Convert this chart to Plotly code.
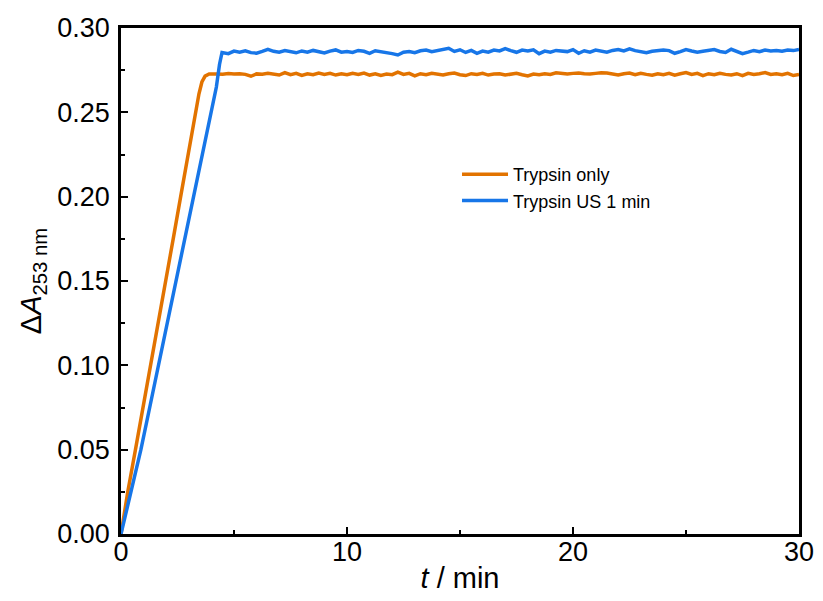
import plotly.graph_objects as go

# ---- data ----
orange_rise_t = [0, 0.3, 0.64, 0.98, 1.32, 1.65, 1.98, 2.31, 2.64, 2.97, 3.3, 3.45, 3.58, 3.72, 3.9, 4.05]
orange_rise_y = [0, 0.025, 0.05, 0.075, 0.10, 0.125, 0.15, 0.175, 0.20, 0.225, 0.25, 0.261, 0.268, 0.2715, 0.2727, 0.2729]

orange_plateau_t = [4.25 + 0.25 * i for i in range(104)]
orange_plateau_y = [
    0.2728, 0.2726, 0.2730, 0.2727, 0.2729, 0.2725, 0.2714, 0.2728, 0.2726, 0.2731,
    0.2728, 0.2721, 0.2736, 0.2723, 0.2731, 0.2719, 0.2728, 0.2723, 0.2733, 0.2725,
    0.2731, 0.2721, 0.2729, 0.2723, 0.2731, 0.2725, 0.2733, 0.2721, 0.2729, 0.2719,
    0.2727, 0.2723, 0.2738, 0.2725, 0.2731, 0.2716, 0.2729, 0.2723, 0.2731, 0.2725,
    0.2721, 0.2729, 0.2733, 0.2723, 0.2718, 0.2729, 0.2725, 0.2731, 0.2721, 0.2727,
    0.2729, 0.2721, 0.2727, 0.2731, 0.2723, 0.2716, 0.2727, 0.2723, 0.2729, 0.2725,
    0.2735, 0.2730, 0.2727, 0.2731, 0.2733, 0.2729, 0.2727, 0.2731, 0.2735, 0.2733,
    0.2725, 0.2721, 0.2729, 0.2733, 0.2723, 0.2731, 0.2725, 0.2720, 0.2729, 0.2723,
    0.2731, 0.2720, 0.2729, 0.2736, 0.2725, 0.2731, 0.2718, 0.2729, 0.2723, 0.2731,
    0.2725, 0.2721, 0.2729, 0.2718, 0.2731, 0.2725, 0.2729, 0.2736, 0.2725, 0.2729,
    0.2723, 0.2731, 0.2718, 0.2724,
]

blue_rise_t = [0, 0.45, 0.88, 1.27, 1.66, 2.05, 2.44, 2.83, 3.22, 3.61, 4.0, 4.22, 4.36, 4.47]
blue_rise_y = [0, 0.025, 0.05, 0.075, 0.10, 0.125, 0.15, 0.175, 0.20, 0.225, 0.25, 0.265, 0.2785, 0.2855]

blue_plateau_t = [4.75 + 0.25 * i for i in range(102)]
blue_plateau_y = [
    0.2848, 0.2863, 0.2857, 0.2865, 0.2854, 0.2851, 0.2861, 0.2874, 0.2862, 0.2857,
    0.2866, 0.2860, 0.2853, 0.2864, 0.2857, 0.2867, 0.2860, 0.2852, 0.2863, 0.2870,
    0.2857, 0.2861, 0.2855, 0.2867, 0.2862, 0.2850, 0.2865, 0.2860, 0.2857, 0.2848,
    0.2840, 0.2856, 0.2861, 0.2854, 0.2865, 0.2869, 0.2859, 0.2867, 0.2873, 0.2880,
    0.2861, 0.2871, 0.2855, 0.2867, 0.2850, 0.2863, 0.2857, 0.2869, 0.2864, 0.2878,
    0.2866, 0.2856, 0.2869, 0.2864, 0.2871, 0.2848, 0.2863, 0.2857, 0.2867, 0.2862,
    0.2860, 0.2872, 0.2850, 0.2865, 0.2857, 0.2869, 0.2862, 0.2857, 0.2867, 0.2872,
    0.2864, 0.2876, 0.2866, 0.2859, 0.2854, 0.2862, 0.2867, 0.2869, 0.2866, 0.2850,
    0.2860, 0.2872, 0.2864, 0.2857, 0.2862, 0.2867, 0.2872, 0.2861, 0.2855, 0.2874,
    0.2862, 0.2848, 0.2857, 0.2867, 0.2860, 0.2869, 0.2864, 0.2867, 0.2862, 0.2869,
    0.2866, 0.2873,
]

series_names = ["Trypsin only", "Trypsin US 1 min"]
x_ticks = [0, 10, 20, 30]
y_ticks = [0.00, 0.05, 0.10, 0.15, 0.20, 0.25, 0.30]

ORANGE = "#E27300"
BLUE = "#1776E8"

fig = go.Figure()
fig.add_trace(go.Scatter(
    x=orange_rise_t + orange_plateau_t, y=orange_rise_y + orange_plateau_y,
    mode="lines", name=series_names[0], line=dict(color=ORANGE, width=3.5),
))
fig.add_trace(go.Scatter(
    x=blue_rise_t + blue_plateau_t, y=blue_rise_y + blue_plateau_y,
    mode="lines", name=series_names[1], line=dict(color=BLUE, width=3.5),
))

font_family = "Liberation Sans, Arial, sans-serif"
axis_common = dict(
    showgrid=False, zeroline=False, showline=True, linecolor="black", linewidth=2.5,
    mirror=True, ticks="inside", ticklen=7, tickwidth=2, tickcolor="black",
    tickfont=dict(family=font_family, size=27, color="black"),
    automargin=False,
)

fig.update_xaxes(
    range=[0, 30], tickvals=x_ticks, ticktext=[str(v) for v in x_ticks],
    minor=dict(ticks="inside", ticklen=4, tickwidth=2, tickcolor="black", dtick=5, tick0=0),
    title=dict(text="<i>t</i> / min", font=dict(family=font_family, size=29, color="black"), standoff=2),
    ticklabelstandoff=-8,
    **axis_common,
)
fig.update_yaxes(
    range=[0, 0.30], tickvals=y_ticks, ticktext=[f"{v:.2f}" for v in y_ticks],
    minor=dict(ticks="inside", ticklen=4, tickwidth=2, tickcolor="black", dtick=0.025, tick0=0),
    title=dict(text="Δ<i>A</i><sub>253 nm</sub>", font=dict(family=font_family, size=29, color="black"), standoff=8),
    ticklabelstandoff=3,
    **axis_common,
)

fig.update_layout(
    width=823, height=601,
    margin=dict(l=121, r=24, t=28, b=67),
    plot_bgcolor="white", paper_bgcolor="white",
    legend=dict(
        x=0.4956, y=0.747, xanchor="left", yanchor="top",
        bgcolor="rgba(0,0,0,0)", borderwidth=0, itemwidth=46,
        font=dict(family=font_family, size=18, color="black"),
        tracegroupgap=0,
    ),
)

fig.write_html("out.html")
